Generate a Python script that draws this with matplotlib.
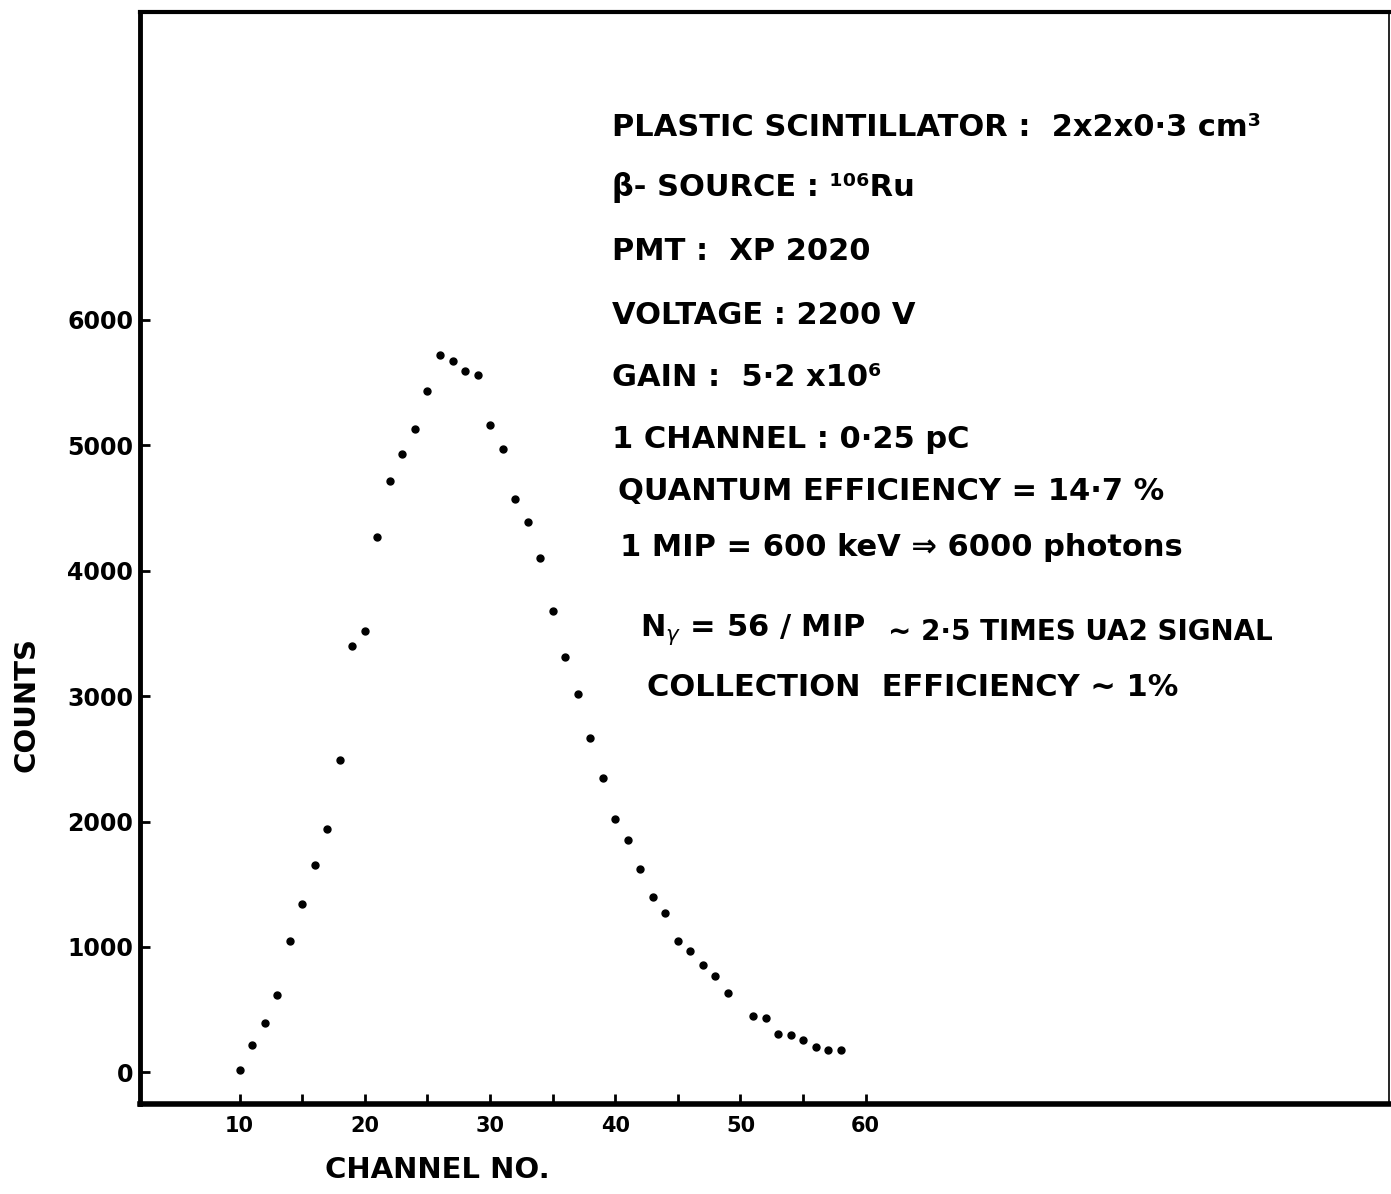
import matplotlib.pyplot as plt

# pulse height spectrum
channel = [10, 11, 12, 13, 14, 15, 16, 17, 18, 19,
           20, 21, 22, 23, 24, 25, 26, 27, 28, 29,
           30, 31, 32, 33, 34, 35, 36, 37, 38, 39,
           40, 41, 42, 43, 44, 45, 46, 47, 48, 49,
           51, 52, 53, 54, 55, 56, 57, 58]
counts = [20, 220, 390, 620, 1050, 1340, 1650, 1940, 2490, 3400,
          3520, 4270, 4720, 4930, 5130, 5430, 5720, 5670, 5590, 5560,
          5160, 4970, 4570, 4390, 4100, 3680, 3310, 3020, 2670, 2350,
          2020, 1850, 1620, 1400, 1270, 1050, 970, 860, 770, 630,
          450, 430, 310, 300, 260, 200, 180, 180]

xticks = [10, 20, 30, 40, 50, 60]
xminor = [15, 25, 35, 45, 55]
yticks = [0, 1000, 2000, 3000, 4000, 5000, 6000]

notes = [
    (612, 128, 'PLASTIC SCINTILLATOR :  2x2x0·3 cm³', 22),
    (612, 188, 'β- SOURCE : ¹⁰⁶Ru', 22),
    (612, 252, 'PMT :  XP 2020', 22),
    (612, 315, 'VOLTAGE : 2200 V', 22),
    (612, 377, 'GAIN :  5·2 x10⁶', 22),
    (612, 440, '1 CHANNEL : 0·25 pC', 22),
    (618, 492, 'QUANTUM EFFICIENCY = 14·7 %', 22),
    (620, 548, '1 MIP = 600 keV ⇒ 6000 photons', 22),
    (640, 630, r'N$_\gamma$ = 56 / MIP', 22),
    (888, 632, '~ 2·5 TIMES UA2 SIGNAL', 20),
    (647, 688, 'COLLECTION  EFFICIENCY ~ 1%', 22),
]

W, H = 1391, 1194
fig = plt.figure(figsize=(W / 100, H / 100), dpi=100)
ax = fig.add_axes([140 / W, 1 - 1104 / H, (1389 - 140) / W, (1104 - 12) / H])

ax.plot(channel, counts, 'ko', ms=5, mec='k')

ax.set_xlim(2.04, 101.8)
ax.set_ylim(-252, 8456)
ax.set_xticks(xticks)
ax.set_xticks(xminor, minor=True)
ax.set_yticks(yticks)
ax.set_xticklabels([str(t) for t in xticks], fontsize=15, fontweight='bold')
ax.set_yticklabels([str(t) for t in yticks], fontsize=17, fontweight='bold')
ax.tick_params(which='both', direction='in', length=7, width=2)
ax.tick_params(axis='x', pad=9)
ax.tick_params(axis='y', pad=5)

ax.spines['left'].set_linewidth(3.5)
ax.spines['bottom'].set_linewidth(4)
ax.spines['top'].set_linewidth(3)
ax.spines['right'].set_linewidth(1.2)

fig.text(437 / W, 1 - 1170 / H, 'CHANNEL NO.', ha='center', va='center',
         fontsize=21, fontweight='bold')
fig.text(27 / W, 1 - 705 / H, 'COUNTS', ha='center', va='center',
         rotation=90, fontsize=21, fontweight='bold')

for x, y, s, fs in notes:
    fig.text(x / W, 1 - y / H, s, ha='left', va='center',
             fontsize=fs, fontweight='bold')

fig.savefig('out.png', dpi=100, facecolor='white')
